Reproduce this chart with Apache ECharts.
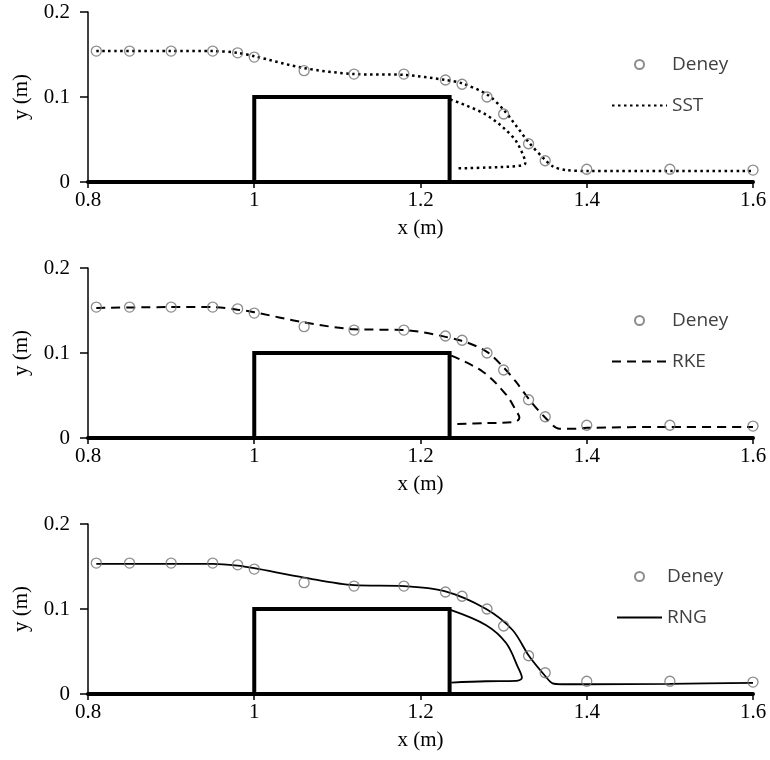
<!DOCTYPE html>
<html>
<head>
<meta charset="utf-8">
<script src="https://cdn.jsdelivr.net/npm/echarts@6/dist/echarts.min.js"></script>
<style>
  html, body { margin: 0; padding: 0; background: #fff; }
  #chart { width: 770px; height: 760px; }
</style>
</head>
<body>
<div id="chart"></div>
<script>
// measured points (Deney), x (m) and y (m)
const deneyX = [0.81, 0.85, 0.90, 0.95, 0.98, 1.00, 1.06, 1.12, 1.18, 1.23, 1.25, 1.28, 1.30, 1.33, 1.35, 1.40, 1.50, 1.60];
const deneyY = [0.154, 0.154, 0.154, 0.154, 0.152, 0.147, 0.131, 0.127, 0.127, 0.120, 0.115, 0.100, 0.080, 0.045, 0.025, 0.015, 0.015, 0.014];

// weir block outline
const block = [[1.0, 0], [1.0, 0.1], [1.235, 0.1], [1.235, 0]];

// SST model: free surface and lower nappe
const sstSurface = [[0.81, 0.154], [0.90, 0.154], [0.95, 0.154], [0.98, 0.152], [1.00, 0.148], [1.06, 0.134], [1.12, 0.127], [1.18, 0.126],
  [1.23, 0.120], [1.25, 0.116], [1.28, 0.103], [1.30, 0.085], [1.33, 0.047], [1.35, 0.026], [1.36, 0.018], [1.375, 0.014], [1.40, 0.013], [1.50, 0.013], [1.60, 0.013]];
const sstNappe = [[1.236, 0.097], [1.279, 0.079], [1.311, 0.053], [1.322, 0.035], [1.326, 0.022], [1.318, 0.019], [1.28, 0.017], [1.244, 0.016]];

// RKE model
const rkeSurface = [[0.81, 0.153], [0.90, 0.154], [0.95, 0.154], [0.98, 0.151], [1.00, 0.148], [1.06, 0.136], [1.12, 0.128], [1.18, 0.127],
  [1.247, 0.115], [1.279, 0.102], [1.30, 0.083], [1.315, 0.066], [1.331, 0.045], [1.351, 0.023], [1.367, 0.011], [1.39, 0.011], [1.40, 0.012], [1.50, 0.013], [1.60, 0.013]];
const rkeNappe = [[1.237, 0.097], [1.275, 0.078], [1.303, 0.051], [1.315, 0.032], [1.319, 0.024], [1.314, 0.019], [1.28, 0.0175], [1.241, 0.0165]];

// RNG model
const rngSurface = [[0.81, 0.153], [0.90, 0.153], [0.95, 0.153], [0.98, 0.151], [1.00, 0.148], [1.06, 0.137], [1.12, 0.128], [1.18, 0.127],
  [1.229, 0.121], [1.279, 0.100], [1.311, 0.075], [1.331, 0.044], [1.351, 0.020], [1.359, 0.0125], [1.37, 0.0115], [1.40, 0.0115], [1.50, 0.012], [1.60, 0.013]];
const rngNappe = [[1.236, 0.099], [1.279, 0.081], [1.303, 0.060], [1.317, 0.032], [1.322, 0.019], [1.315, 0.0155], [1.279, 0.015], [1.237, 0.0135]];

const models = ['SST', 'RKE', 'RNG'];
const lineTypes = [[2.5, 3.5], [9, 6], 'solid'];
const lineWidths = [2.5, 2, 1.8];
const surfaces = [sstSurface, rkeSurface, rngSurface];
const nappes = [sstNappe, rkeNappe, rngNappe];

const gridTops = [12, 268, 524];
const legendTops = [50, 306, 562];
const legendLefts = [606, 606, 611];
const legendWidths = [55, 55, 45];

const serif = '"Liberation Serif", "Times New Roman", serif';
const deney = deneyX.map((x, i) => [x, deneyY[i]]);

const chart = echarts.init(document.getElementById('chart'));

const grids = [], xAxes = [], yAxes = [], legends = [], series = [];

gridTops.forEach((top, i) => {
  grids.push({ left: 88, right: 17, top: top, height: 170 });
  xAxes.push({
    type: 'value', gridIndex: i, min: 0.8, max: 1.6, interval: 0.2,
    name: 'x (m)', nameLocation: 'middle', nameGap: 36,
    nameTextStyle: { fontFamily: serif, fontSize: 21, color: '#000' },
    axisLine: { lineStyle: { color: '#000', width: 4 } },
    axisTick: { length: 6, lineStyle: { color: '#000', width: 1.5 } },
    axisLabel: { fontFamily: serif, fontSize: 21, color: '#000', margin: 8 },
    splitLine: { show: false }
  });
  yAxes.push({
    type: 'value', gridIndex: i, min: 0, max: 0.2, interval: 0.1,
    name: 'y (m)', nameLocation: 'middle', nameGap: 56,
    nameTextStyle: { fontFamily: serif, fontSize: 21, color: '#000' },
    axisLine: { show: true, lineStyle: { color: '#000', width: 1.5 } },
    axisTick: { show: true, length: 8, lineStyle: { color: '#000', width: 1.5 } },
    axisLabel: { fontFamily: serif, fontSize: 21, color: '#000', margin: 18 },
    splitLine: { show: false }
  });
  legends.push({
    data: ['Deney', { name: models[i], itemStyle: { opacity: 0 } }],
    orient: 'vertical', left: legendLefts[i], top: legendTops[i],
    itemWidth: legendWidths[i], itemHeight: 9, itemGap: 22,
    textStyle: { fontFamily: '"Open Sans", sans-serif', fontSize: 19, color: '#404040' }
  });
  series.push({
    type: 'line', name: 'block', xAxisIndex: i, yAxisIndex: i, data: block,
    symbol: 'none', silent: true, z: 3,
    lineStyle: { color: '#000', width: 4, cap: 'square', join: 'miter' }
  });
  series.push({
    type: 'line', name: models[i], xAxisIndex: i, yAxisIndex: i, data: surfaces[i],
    symbol: 'none', smooth: 0.3, z: 4, color: '#000',
    lineStyle: { color: '#000', width: lineWidths[i], type: lineTypes[i] }
  });
  series.push({
    type: 'line', name: models[i], xAxisIndex: i, yAxisIndex: i, data: nappes[i],
    symbol: 'none', smooth: 0.35, z: 4, color: '#000',
    lineStyle: { color: '#000', width: lineWidths[i], type: lineTypes[i] }
  });
  series.push({
    type: 'scatter', name: 'Deney', xAxisIndex: i, yAxisIndex: i, data: deney,
    symbol: 'circle', symbolSize: 10, z: 5,
    itemStyle: { color: 'rgba(255,255,255,0)', borderColor: '#707070', borderWidth: 1.3 }
  });
});

chart.setOption({
  animation: false,
  backgroundColor: '#fff',
  grid: grids,
  xAxis: xAxes,
  yAxis: yAxes,
  legend: legends,
  series: series
});
</script>
</body>
</html>
